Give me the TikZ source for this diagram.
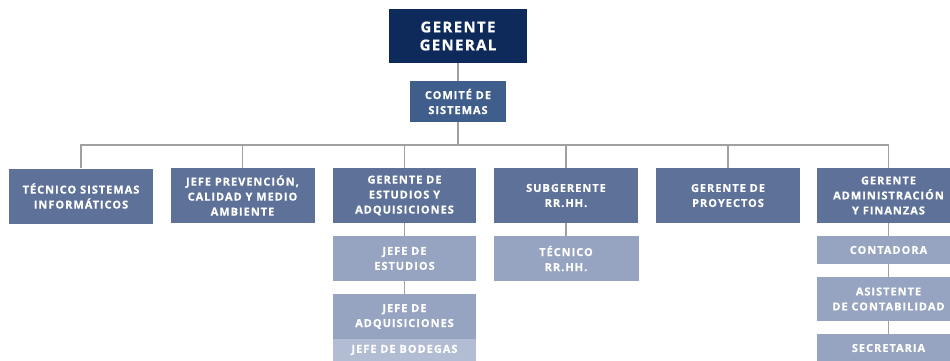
\documentclass[tikz,border=0pt]{standalone}
\usepackage{fontspec}
\setmainfont[LetterSpace=9, BoldFeatures={FakeBold=0.6}]{Open Sans}
\definecolor{navy}{HTML}{0E2A5A}
\definecolor{midblue}{HTML}{3F5E8C}
\definecolor{slate}{HTML}{5E7299}
\definecolor{lightbox}{HTML}{96A4C1}
\definecolor{lighterbox}{HTML}{B2BDD3}
\definecolor{linegray}{HTML}{A0A0A0}
\tikzset{
  box/.style={fill=slate, text=white, align=center, inner sep=0pt,
    font=\bfseries\fontsize{11}{15}\selectfont, minimum width=144, minimum height=55},
  subbox/.style={box, fill=lightbox, minimum height=45},
  conn/.style={draw=linegray, line width=1.3pt}
}
\begin{document}
\begin{tikzpicture}[x=1pt,y=-1pt]
\useasboundingbox (0,0) rectangle (950,360);
\node[box, fill=navy, minimum width=138, minimum height=54,
  font=\bfseries\fontsize{15}{18}\selectfont] (gg) at (458,36) {GERENTE\\GENERAL};
\node[box, fill=midblue, minimum width=96, minimum height=41] (cs) at (458,101.5) {COMITÉ DE\\SISTEMAS};
\coordinate (bus) at (458,145);
\node[box] (b1) at (81,196) {TÉCNICO SISTEMAS\\INFORMÁTICOS};
\node[box] (b2) at (242.5,195.5) {JEFE PREVENCIÓN,\\CALIDAD Y MEDIO\\AMBIENTE};
\node[box, minimum width=143] (b3) at (404.5,195.5) {GERENTE DE\\ESTUDIOS Y\\ADQUISICIONES};
\node[box] (b4) at (566,195.5) {SUBGERENTE\\RR.HH.};
\node[box] (b5) at (728,195.5) {GERENTE DE\\PROYECTOS};
\node[box, minimum width=143] (b6) at (888.5,195.5) {GERENTE\\ADMINISTRACIÓN\\Y FINANZAS};
\node[subbox, minimum width=143] (je) at (404.5,258.5) {JEFE DE\\ESTUDIOS};
\node[subbox, minimum width=143] (ja) at (404.5,316.5) {JEFE DE\\ADQUISICIONES};
\node[subbox, fill=lighterbox, minimum width=143, minimum height=22] (jb) at (404.5,350) {JEFE DE BODEGAS};
\node[subbox, minimum width=145] (tr) at (566,258.5) {TÉCNICO\\RR.HH.};
\node[subbox, minimum width=143, minimum height=28] (co) at (888.5,250) {CONTADORA};
\node[subbox, minimum width=143, minimum height=44] (as) at (888.5,299) {ASISTENTE\\DE CONTABILIDAD};
\node[subbox, minimum width=143, minimum height=28] (se) at (888.5,348) {SECRETARIA};
\draw[conn] (gg) -- (cs);
\draw[conn] (cs) -- (bus);
\foreach \b in {b1,b2,b3,b4,b5,b6} { \draw[conn] (\b.north) |- (bus); }
\draw[conn] (b3) -- (je);
\draw[conn] (je) -- (ja);
\draw[conn] (b4) -- (tr);
\draw[conn] (b6) -- (co);
\draw[conn] (co) -- (as);
\draw[conn] (as) -- (se);
\end{tikzpicture}
\end{document}
